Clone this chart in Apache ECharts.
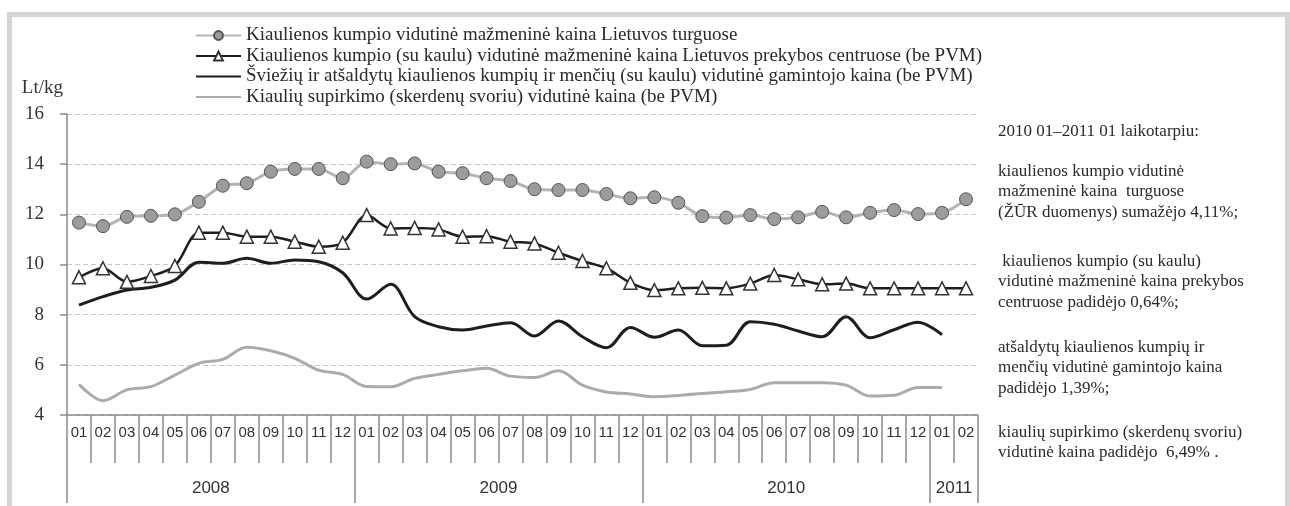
<!DOCTYPE html>
<html>
<head>
<meta charset="utf-8">
<script src="https://cdn.jsdelivr.net/npm/echarts@6/dist/echarts.min.js"></script>
<style>html,body{margin:0;padding:0;background:#fff}#c{width:1290px;height:506px}</style>
</head>
<body>
<div id="c"></div>
<script>
// ---- data ----
var months = ['01','02','03','04','05','06','07','08','09','10','11','12',
              '01','02','03','04','05','06','07','08','09','10','11','12',
              '01','02','03','04','05','06','07','08','09','10','11','12',
              '01','02'];
var years = ['2008','2009','2010','2011'];
var yearMonthCounts = [12, 12, 12, 2];

var seriesNames = [
  'Kiaulienos kumpio vidutinė mažmeninė kaina Lietuvos turguose',
  'Kiaulienos kumpio (su kaulu) vidutinė mažmeninė kaina Lietuvos prekybos centruose (be PVM)',
  'Šviežių ir atšaldytų kiaulienos kumpių ir menčių (su kaulu) vidutinė gamintojo kaina (be PVM)',
  'Kiaulių supirkimo (skerdenų svoriu) vidutinė kaina (be PVM)'
];

var turguose = [11.67, 11.53, 11.90, 11.94, 12.00, 12.50, 13.14, 13.24, 13.70, 13.81, 13.81, 13.44,
                14.10, 14.00, 14.03, 13.70, 13.64, 13.44, 13.33, 13.00, 12.97, 12.97, 12.81, 12.64,
                12.68, 12.46, 11.93, 11.87, 11.97, 11.81, 11.88, 12.10, 11.88, 12.06, 12.17, 12.01,
                12.06, 12.60];
var prekybosCentruose = [9.49, 9.85, 9.31, 9.54, 9.94, 11.27, 11.27, 11.11, 11.11, 10.91, 10.71, 10.87,
                         11.97, 11.44, 11.46, 11.40, 11.11, 11.13, 10.91, 10.84, 10.47, 10.14, 9.85, 9.27,
                         8.98, 9.05, 9.07, 9.05, 9.24, 9.58, 9.41, 9.21, 9.24, 9.05, 9.05, 9.05,
                         9.05, 9.05];
var gamintojo = [8.38, 8.72, 8.98, 9.09, 9.38, 10.09, 10.05, 10.25, 10.05, 10.18, 10.11, 9.67,
                 8.62, 9.21, 7.92, 7.52, 7.39, 7.55, 7.68, 7.15, 7.75, 7.12, 6.68, 7.49,
                 7.10, 7.39, 6.76, 6.78, 7.72, 7.62, 7.35, 7.12, 7.92, 7.08, 7.40, 7.70,
                 7.20, null];
var supirkimo = [5.23, 4.57, 5.00, 5.13, 5.59, 6.06, 6.22, 6.70, 6.56, 6.26, 5.79, 5.62,
                 5.14, 5.13, 5.46, 5.62, 5.76, 5.86, 5.55, 5.50, 5.76, 5.19, 4.92, 4.84,
                 4.73, 4.78, 4.86, 4.93, 5.02, 5.29, 5.29, 5.29, 5.19, 4.76, 4.79, 5.10,
                 5.10, null];

var yTicks = {min: 4, max: 16, interval: 2};
var yUnit = 'Lt/kg';

var notes = [
  ['2010 01–2011 01 laikotarpiu:'],
  ['kiaulienos kumpio vidutinė', 'mažmeninė kaina  turguose', '(ŽŪR duomenys) sumažėjo 4,11%;'],
  [' kiaulienos kumpio (su kaulu)', 'vidutinė mažmeninė kaina prekybos', 'centruose padidėjo 0,64%;'],
  ['atšaldytų kiaulienos kumpių ir', 'menčių vidutinė gamintojo kaina', 'padidėjo 1,39%;'],
  ['kiaulių supirkimo (skerdenų svoriu)', 'vidutinė kaina padidėjo  6,49% .']
];

// ---- derived year axis positions ----
var yearBounds = [0], yearCenters = [], acc = 0;
yearMonthCounts.forEach(function (n) { yearCenters.push(acc + n / 2); acc += n; yearBounds.push(acc); });

var SERIF = '"Liberation Serif", "Times New Roman", serif';
var SANS = '"Liberation Sans", Arial, sans-serif';
var AXIS_C = '#8a8a8a';

var chart = echarts.init(document.getElementById('c'), null, {renderer: 'canvas'});

var noteTops = [121, 161, 251, 337, 422];
var graphics = [
  {type: 'rect', shape: {x: 7, y: 12, width: 1283, height: 5}, style: {fill: '#d4d4d4'}, silent: true},
  {type: 'rect', shape: {x: 7, y: 12, width: 5, height: 494}, style: {fill: '#d4d4d4'}, silent: true},
  {type: 'rect', shape: {x: 1285, y: 12, width: 5, height: 494}, style: {fill: '#d4d4d4'}, silent: true}
];
notes.forEach(function (lines, i) {
  graphics.push({
    type: 'text', left: 998, top: noteTops[i], silent: true,
    style: {text: lines.join('\n'), font: '17px ' + SERIF, lineHeight: 20.5, fill: '#2a2a2a'}
  });
});

chart.setOption({
  animation: false,
  backgroundColor: '#fff',
  graphic: graphics,
  legend: {
    orient: 'vertical', left: 195, top: 26, padding: 0,
    itemWidth: 45, itemHeight: 11, itemGap: 1.5,
    lineStyle: {width: 2},
    textStyle: {fontFamily: SERIF, fontSize: 19, color: '#2a2a2a'},
    data: [
      {name: seriesNames[0]},
      {name: seriesNames[1]},
      {name: seriesNames[2], itemStyle: {opacity: 0}},
      {name: seriesNames[3], itemStyle: {opacity: 0}}
    ]
  },
  grid: {left: 67, right: 312, top: 114, bottom: 91, containLabel: false},
  xAxis: [{
    type: 'category', data: months, boundaryGap: true, position: 'bottom',
    axisLine: {lineStyle: {color: AXIS_C, width: 1.5}},
    axisTick: {show: true, interval: 0, length: 48, lineStyle: {color: AXIS_C, width: 1.5}},
    axisLabel: {interval: 0, margin: 10, fontFamily: SANS, fontSize: 15, color: '#333'},
    splitLine: {show: false}
  }, {
    type: 'value', min: 0, max: 38, position: 'bottom',
    axisLine: {show: false},
    axisTick: {show: true, customValues: yearBounds, length: 88, lineStyle: {color: AXIS_C, width: 1.5}},
    axisLabel: {
      customValues: yearCenters, margin: 65, fontFamily: SANS, fontSize: 17, color: '#333',
      formatter: function (v) { var i = yearCenters.indexOf(v); return i >= 0 ? years[i] : ''; }
    },
    splitLine: {show: false}
  }],
  yAxis: {
    type: 'value', min: yTicks.min, max: yTicks.max, interval: yTicks.interval,
    name: yUnit, nameLocation: 'end', nameGap: 26,
    nameTextStyle: {fontFamily: SERIF, fontSize: 19, color: '#333', align: 'right', verticalAlign: 'middle', padding: [0, 4, 0, 0]},
    axisLine: {show: true, lineStyle: {color: AXIS_C, width: 1.5}},
    axisTick: {show: true, length: 7, lineStyle: {color: AXIS_C, width: 1.5}},
    axisLabel: {margin: 23, fontFamily: SERIF, fontSize: 19, color: '#333'},
    splitLine: {show: true, lineStyle: {color: '#c8c8c8', type: [5, 3], width: 1}}
  },
  series: [{
    name: seriesNames[0], type: 'line', data: turguose, smooth: 0.3,
    symbol: 'circle', symbolSize: 13,
    lineStyle: {color: '#b4b4b4', width: 3},
    itemStyle: {color: '#9c9c9c', borderColor: '#555', borderWidth: 1}
  }, {
    name: seriesNames[1], type: 'line', data: prekybosCentruose, smooth: 0.3,
    symbol: 'triangle', symbolSize: 13,
    lineStyle: {color: '#1e1e1e', width: 2.5},
    itemStyle: {color: '#ffffff', borderColor: '#333', borderWidth: 1.5}
  }, {
    name: seriesNames[2], type: 'line', data: gamintojo, smooth: 0.35,
    showSymbol: false, symbol: 'none',
    lineStyle: {color: '#1e1e1e', width: 3},
    itemStyle: {color: '#1e1e1e'}
  }, {
    name: seriesNames[3], type: 'line', data: supirkimo, smooth: 0.35,
    showSymbol: false, symbol: 'none',
    lineStyle: {color: '#ababab', width: 3},
    itemStyle: {color: '#ababab'}
  }]
});
</script>
</body>
</html>
